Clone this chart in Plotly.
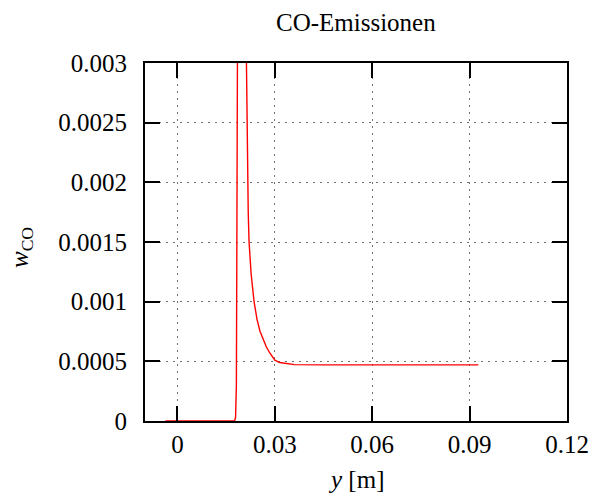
import plotly.graph_objects as go

# data
y_pos_m = [-0.0037, 0.0176, 0.0179, 0.01815, 0.0183, 0.01845, 0.0187, 0.0195, 0.0209,
           0.02113, 0.02134, 0.02155, 0.0218, 0.02206, 0.0227, 0.0236, 0.02452, 0.02545,
           0.02638, 0.0274, 0.02845, 0.0300, 0.0315, 0.0331, 0.0360, 0.0450, 0.0927]
w_co = [0.0, 0.0, 0.00003, 0.0003, 0.0015, 0.003, 0.005, 0.007, 0.0035,
        0.003, 0.0025, 0.002, 0.00175, 0.0015, 0.00123, 0.001, 0.00085, 0.00075,
        0.00068, 0.00062, 0.00057, 0.00051, 0.00049, 0.000483, 0.000472, 0.00047, 0.00047]

x_ticks = [0, 0.03, 0.06, 0.09, 0.12]
x_ticklabels = ["0", "0.03", "0.06", "0.09", "0.12"]
y_ticks = [0, 0.0005, 0.001, 0.0015, 0.002, 0.0025, 0.003]
y_ticklabels = ["0", "0.0005", "0.001", "0.0015", "0.002", "0.0025", "0.003"]

FONT = "Liberation Serif"
fig = go.Figure()
fig.add_trace(go.Scatter(x=y_pos_m, y=w_co, mode="lines",
                         line=dict(color="#ff0000", width=1.4),
                         showlegend=False, cliponaxis=True))

axis_common = dict(showline=True, linecolor="black", linewidth=2, mirror="ticks",
                   ticks="inside", ticklen=15, tickwidth=2, tickcolor="black",
                   showgrid=True, gridcolor="#707070", gridwidth=1, griddash="2px,5px",
                   zeroline=False, automargin=False,
                   tickfont=dict(family=FONT, size=25, color="black"))

fig.update_xaxes(range=[-0.01, 0.12], tickvals=x_ticks, ticktext=x_ticklabels,
                 ticklabelstandoff=0, **axis_common)
fig.update_yaxes(range=[0, 0.003], tickvals=y_ticks, ticktext=y_ticklabels,
                 ticklabelstandoff=11, **axis_common)

fig.update_layout(
    width=592, height=501,
    margin=dict(l=145, r=25, t=63, b=80),
    paper_bgcolor="white", plot_bgcolor="white",
    font=dict(family=FONT, color="black"),
    annotations=[
        dict(text="CO-Emissionen", x=0.5, y=1, xref="paper", yref="paper",
             xanchor="center", yanchor="middle", yshift=41, showarrow=False,
             font=dict(family=FONT, size=25, color="black")),
        dict(text="<i>y</i> [m]", x=0.5, y=0, xref="paper", yref="paper",
             xanchor="center", yanchor="middle", yshift=-58, showarrow=False,
             font=dict(family=FONT, size=25, color="black")),
        dict(text="<i>w</i><sub>CO</sub>", x=0, y=0.5, xref="paper", yref="paper",
             xanchor="center", yanchor="middle", xshift=-124, yshift=-6, textangle=-90,
             showarrow=False, font=dict(family=FONT, size=25, color="black")),
    ],
)

fig.write_html("out.html")
